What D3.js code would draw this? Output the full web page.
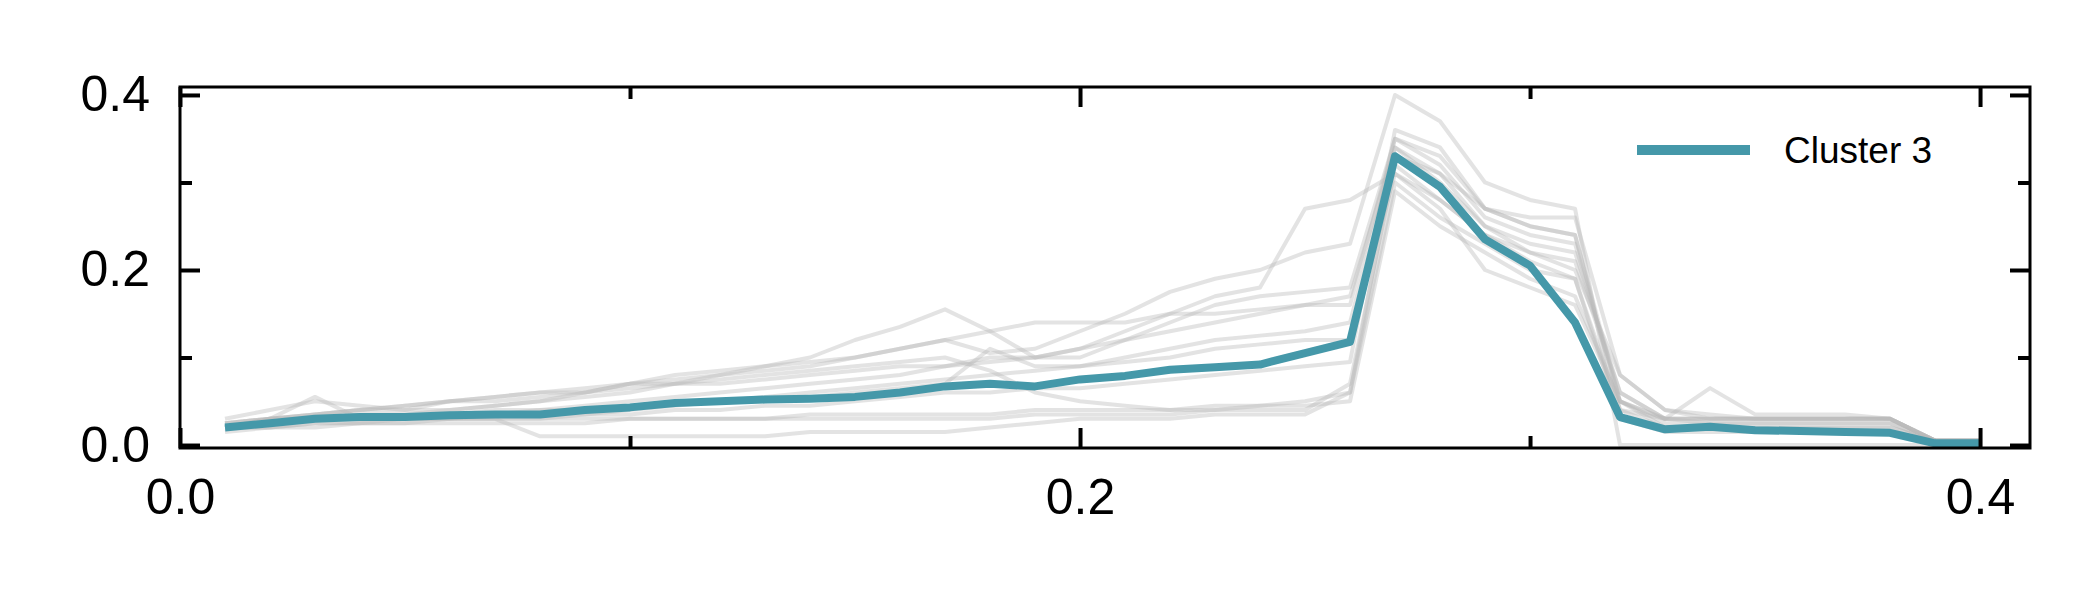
<!DOCTYPE html>
<html><head><meta charset="utf-8">
<script src="https://cdn.jsdelivr.net/npm/d3@7/dist/d3.min.js"></script>
<style>body{margin:0;background:#fff}</style></head>
<body><svg id="c" width="2100" height="600"></svg>
<script>
const xValues = d3.range(1,41).map(i=>i/100);
const clusterName = "Cluster 3";
const clusterMean = [0.02,0.025,0.03,0.032,0.032,0.034,0.035,0.035,0.04,0.043,0.048,0.05,0.052,0.053,0.055,0.06,0.067,0.07,0.067,0.075,0.079,0.086,0.089,0.092,0.105,0.118,0.33,0.295,0.235,0.205,0.14,0.032,0.018,0.021,0.017,0.016,0.015,0.014,0.002,0.002];
const members = [
[0.03,0.04,0.05,0.045,0.04,0.04,0.045,0.05,0.055,0.06,0.07,0.08,0.09,0.10,0.12,0.135,0.155,0.13,0.10,0.11,0.13,0.15,0.17,0.18,0.27,0.28,0.31,0.28,0.24,0.22,0.20,0.08,0.04,0.03,0.03,0.03,0.03,0.03,0.005,0.005],
[0.025,0.03,0.035,0.04,0.04,0.05,0.055,0.06,0.06,0.07,0.075,0.08,0.085,0.09,0.10,0.11,0.12,0.105,0.11,0.13,0.15,0.175,0.19,0.20,0.22,0.23,0.40,0.37,0.30,0.28,0.27,0.0,0.0,0.0,0.0,0.0,0.0,0.0,0.0,0.0],
[0.02,0.03,0.055,0.03,0.03,0.03,0.03,0.01,0.01,0.01,0.01,0.01,0.01,0.015,0.015,0.015,0.015,0.02,0.025,0.03,0.03,0.03,0.035,0.035,0.035,0.06,0.33,0.31,0.27,0.25,0.24,0.04,0.03,0.065,0.035,0.035,0.035,0.03,0.005,0.005],
[0.02,0.025,0.03,0.035,0.035,0.04,0.045,0.05,0.06,0.07,0.07,0.07,0.075,0.08,0.085,0.09,0.09,0.095,0.10,0.10,0.12,0.14,0.16,0.17,0.175,0.18,0.35,0.32,0.26,0.24,0.23,0.05,0.03,0.03,0.03,0.03,0.03,0.03,0.005,0.005],
[0.02,0.025,0.03,0.03,0.03,0.03,0.035,0.035,0.035,0.04,0.045,0.05,0.05,0.055,0.06,0.065,0.07,0.11,0.09,0.09,0.10,0.11,0.12,0.125,0.13,0.14,0.34,0.30,0.25,0.22,0.21,0.06,0.03,0.025,0.025,0.025,0.025,0.025,0.005,0.005],
[0.015,0.02,0.02,0.025,0.025,0.025,0.025,0.025,0.025,0.03,0.03,0.03,0.03,0.035,0.035,0.035,0.035,0.035,0.04,0.04,0.04,0.04,0.045,0.045,0.045,0.05,0.29,0.25,0.22,0.19,0.17,0.05,0.02,0.02,0.02,0.02,0.02,0.02,0.005,0.005],
[0.02,0.02,0.025,0.025,0.03,0.03,0.03,0.03,0.035,0.035,0.04,0.04,0.045,0.045,0.05,0.055,0.06,0.06,0.065,0.065,0.07,0.075,0.08,0.085,0.09,0.095,0.36,0.34,0.27,0.26,0.26,0.08,0.04,0.035,0.03,0.03,0.03,0.03,0.005,0.005],
[0.025,0.03,0.03,0.035,0.035,0.035,0.04,0.04,0.045,0.05,0.055,0.06,0.065,0.07,0.075,0.08,0.09,0.10,0.10,0.11,0.12,0.13,0.14,0.15,0.16,0.16,0.35,0.33,0.27,0.25,0.24,0.05,0.025,0.025,0.025,0.025,0.025,0.025,0.005,0.005],
[0.02,0.03,0.035,0.04,0.045,0.05,0.05,0.055,0.06,0.065,0.07,0.075,0.08,0.085,0.09,0.095,0.10,0.085,0.06,0.05,0.045,0.04,0.04,0.045,0.05,0.06,0.30,0.26,0.23,0.20,0.19,0.04,0.02,0.02,0.02,0.02,0.02,0.02,0.005,0.005],
[0.02,0.02,0.025,0.025,0.025,0.03,0.03,0.03,0.03,0.03,0.03,0.03,0.03,0.03,0.03,0.03,0.03,0.03,0.035,0.035,0.035,0.035,0.04,0.04,0.04,0.07,0.32,0.28,0.24,0.21,0.19,0.03,0.015,0.015,0.015,0.015,0.015,0.015,0.005,0.005],
[0.025,0.03,0.035,0.04,0.045,0.05,0.055,0.06,0.065,0.07,0.08,0.085,0.09,0.095,0.10,0.11,0.12,0.13,0.14,0.14,0.14,0.15,0.15,0.155,0.16,0.17,0.34,0.31,0.25,0.23,0.22,0.06,0.03,0.03,0.03,0.03,0.03,0.03,0.005,0.005],
[0.02,0.025,0.03,0.03,0.03,0.035,0.035,0.04,0.04,0.045,0.05,0.05,0.055,0.06,0.065,0.07,0.075,0.08,0.085,0.09,0.095,0.10,0.11,0.115,0.12,0.12,0.31,0.27,0.20,0.18,0.16,0.05,0.03,0.03,0.03,0.03,0.03,0.03,0.005,0.005]
];
const majorTicks = [0, 0.2, 0.4];
const minorTicks = [0.1, 0.3];

const svg = d3.select("#c");
const L=180, R=2030, T=87, B=448;
const x = d3.scaleLinear().domain([0,0.4111]).range([L,R]);
const y = d3.scaleLinear().domain([-0.0034,0.4091]).range([B,T]);
const line = d3.line().x((d,i)=>x(xValues[i])).y(d=>y(d));

const g = svg.append("g");
members.forEach(m=>g.append("path").attr("d",line(m)).attr("fill","none")
  .attr("stroke","#b8b8b8").attr("stroke-opacity",0.4).attr("stroke-width",4).attr("stroke-linejoin","round"));
g.append("path").attr("d",line(clusterMean)).attr("fill","none").attr("stroke","#4598a9").attr("stroke-width",8).attr("stroke-linejoin","round");

const font = "Liberation Sans, Arial, sans-serif";
function axis(gen, tr, vals, size, labels){
  const a = svg.append("g").attr("transform",tr).call(gen.tickValues(vals).tickSizeInner(-size).tickSizeOuter(0).tickPadding(size+10).tickFormat(labels?d3.format(".1f"):""));
  a.select(".domain").remove();
  a.selectAll("line").attr("stroke","#000").attr("stroke-width",4);
  a.selectAll("text").attr("font-family",font).attr("font-size",50).attr("fill","#000");
}
axis(d3.axisBottom(x), `translate(0,${B})`, majorTicks, 20, true);
axis(d3.axisBottom(x), `translate(0,${B})`, minorTicks, 12, false);
axis(d3.axisTop(x), `translate(0,${T})`, majorTicks, 20, false);
axis(d3.axisTop(x), `translate(0,${T})`, minorTicks, 12, false);
axis(d3.axisLeft(y), `translate(${L},0)`, majorTicks, 20, true);
axis(d3.axisLeft(y), `translate(${L},0)`, minorTicks, 12, false);
axis(d3.axisRight(y), `translate(${R},0)`, majorTicks, 20, false);
axis(d3.axisRight(y), `translate(${R},0)`, minorTicks, 12, false);
svg.selectAll("g text").filter(function(){return this.textContent!==""}).each(function(){});
svg.append("rect").attr("x",L).attr("y",T).attr("width",R-L).attr("height",B-T).attr("fill","none").attr("stroke","#000").attr("stroke-width",3);

svg.append("line").attr("x1",1637).attr("x2",1750).attr("y1",150).attr("y2",150).attr("stroke","#4598a9").attr("stroke-width",10);
svg.append("text").attr("x",1784).attr("y",163).attr("font-family",font).attr("font-size",37).text(clusterName);
</script></body></html>
